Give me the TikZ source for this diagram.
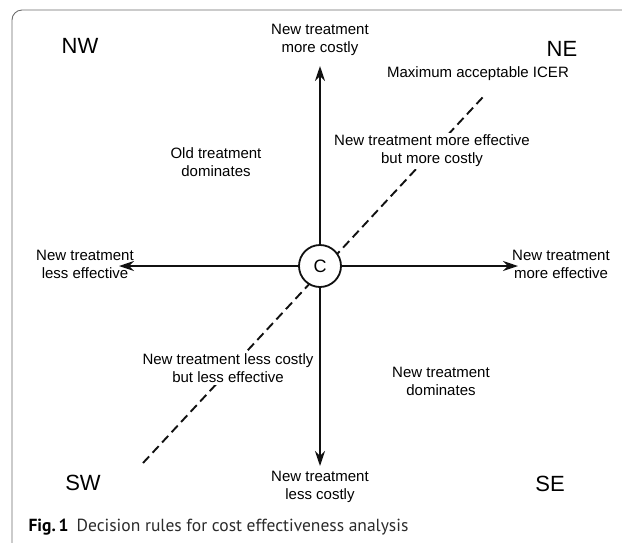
\documentclass[tikz,border=0pt]{standalone}
\usepackage{fontspec}
\setmainfont{Liberation Sans}
\newfontfamily\capfont{PT Sans}
\usetikzlibrary{arrows.meta,positioning}
\definecolor{ink}{HTML}{111111}
\definecolor{rim}{HTML}{6B6B6B}
\definecolor{captext}{HTML}{2B2B2B}
\tikzset{lbl/.style={align=center,font=\fontsize{15}{18}\selectfont,inner sep=2pt},
 wlbl/.style={lbl,fill=white},pole/.style={font=\fontsize{22}{24}\selectfont},
 arr/.style={-{Stealth[length=15pt,width=10pt,inset=5pt]},line width=1.8pt,draw=ink},
 icer/.style={dash pattern=on 9pt off 5pt,line width=1.9pt,draw=ink}}

\begin{document}
\begin{tikzpicture}[x=1pt,y=-1pt]
\useasboundingbox (0,0) rectangle (622,542);
\draw[rim,line width=0.9pt,rounded corners=10pt] (12,10) rectangle (660,580);

% threshold line
\coordinate (lo) at (143,463);
\coordinate (hi) at (483,97);
\draw[icer] (lo) -- (hi);

\node[draw=ink,line width=1.8pt,fill=white,circle,minimum size=42pt,inner sep=0pt,
 font=\fontsize{18}{20}\selectfont] (c) at (320,266) {C};

\coordinate (up) at (320,66);
\coordinate (down) at (320,466);
\coordinate (left) at (119,266);
\coordinate (right) at (518,266);

\node[lbl] (costlier) at (320,40) {New treatment\\more costly};
\node[lbl] (cheaper) at (320,487) {New treatment\\less costly};
\node[lbl] (weaker) at (85,264) {New treatment\\less effective};
\node[lbl] (stronger) at (561,264) {New treatment\\more effective};
\node[lbl] (olddom) at (216,162) {Old treatment\\dominates};
\node[wlbl] (nequad) at (432,151) {New treatment more effective\\but more costly};
\node[wlbl] (swquad) at (228,368) {New treatment less costly\\but less effective};
\node[lbl] (newdom) at (441,381) {New treatment\\dominates};
\node[lbl] (ceiling) at (478,74) {Maximum acceptable ICER};

\draw[arr] (c) -- (up);
\draw[arr] (c) -- (down);
\draw[arr] (c) -- (left);
\draw[arr] (c) -- (right);

\node[pole] (nw) at (80,46) {NW};
\node[pole] (ne) at (562,49) {NE};
\node[pole] (sw) at (83,483) {SW};
\node[pole] (se) at (550,484) {SE};

\node[anchor=base west,text=captext,font=\capfont\fontsize{17.5}{20}\selectfont] (cap) at (25,531)
 {\textbf{\color{black}Fig.\,1}\hspace{8pt}Decision rules for cost effectiveness analysis};
\end{tikzpicture}
\end{document}
